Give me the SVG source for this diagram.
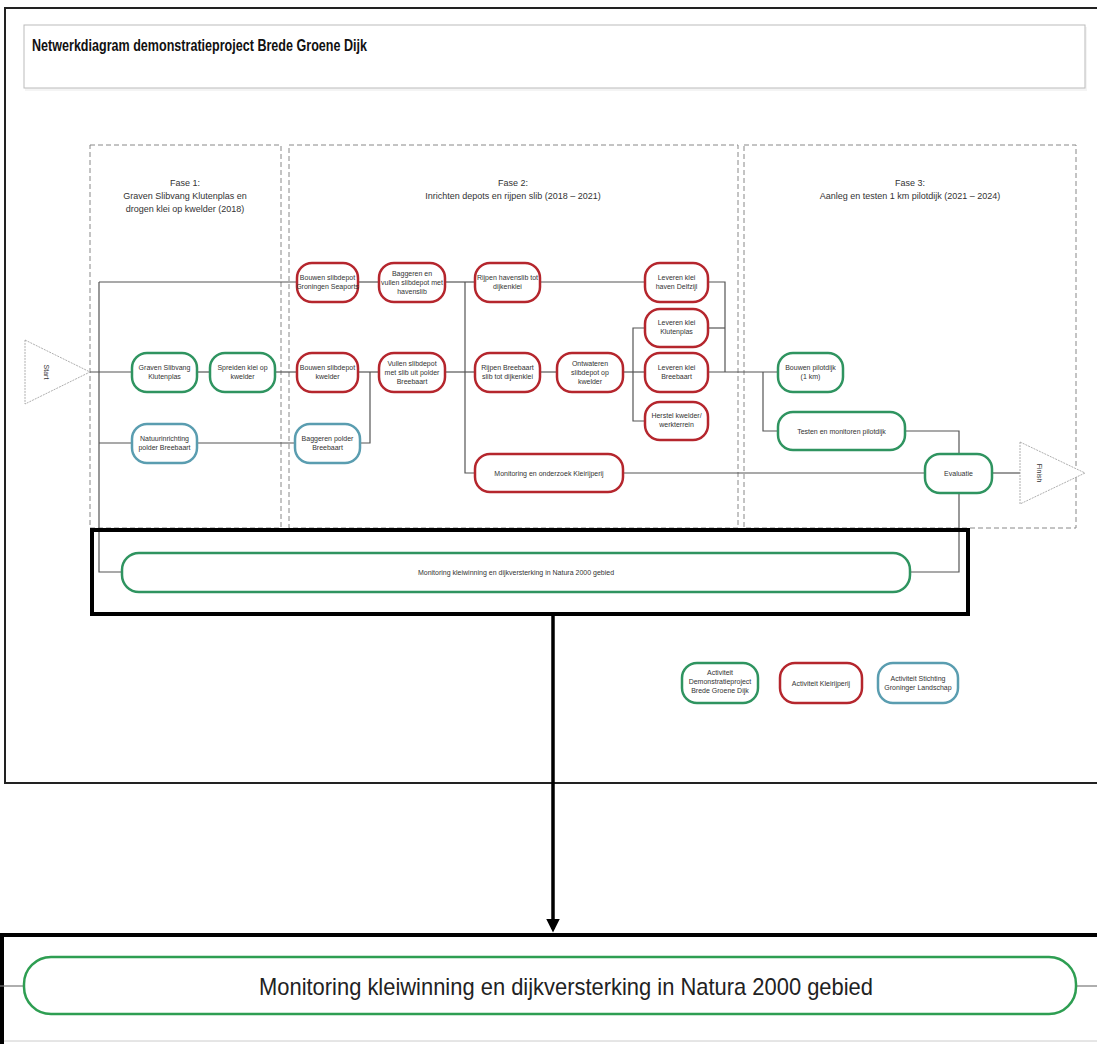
<svg xmlns="http://www.w3.org/2000/svg" width="1097" height="1044" viewBox="0 0 1097 1044">
<defs>
<style>
.t{font-family:"Liberation Sans",Arial,sans-serif;fill:#333;}
.n{font-size:7px;text-anchor:middle;}
.h{font-size:9px;text-anchor:middle;fill:#333;}
.g{fill:#fff;stroke:#2f9460;stroke-width:2.5;}
.r{fill:#fff;stroke:#b5262d;stroke-width:2.5;}
.b{fill:#fff;stroke:#5a9db0;stroke-width:2.5;}
.c{fill:none;stroke:#555;stroke-width:1.2;}
.ph{fill:none;stroke:#888;stroke-width:1;stroke-dasharray:5,3;}
.tri{fill:#fff;stroke:#999;stroke-width:0.8;stroke-dasharray:2,1;}
</style>
<marker id="ah" markerWidth="4" markerHeight="4" refX="3" refY="2" orient="auto" markerUnits="strokeWidth">
<path d="M0,0 L4,2 L0,4 Z" fill="#000"/>
</marker>
</defs>
<rect x="0" y="0" width="1097" height="1044" fill="#fff"/>
<!-- outer frame -->
<rect x="5" y="8" width="1100" height="775" fill="#fff" stroke="#222" stroke-width="2"/>
<!-- title box -->
<g id="title">
<rect x="25" y="27" width="1062" height="64" fill="#f4f4f4" stroke="none"/>
<rect x="24" y="25" width="1061" height="63" fill="#fff" stroke="#bbb" stroke-width="1"/>
<text class="t" x="32" y="51" font-size="17" font-weight="bold" textLength="335" lengthAdjust="spacingAndGlyphs" style="fill:#111">Netwerkdiagram demonstratieproject Brede Groene Dijk</text>
</g>
<!-- phases -->
<g id="phases">
<rect class="ph" x="90" y="145" width="191" height="383"/>
<rect class="ph" x="289" y="145" width="449" height="383"/>
<rect class="ph" x="744" y="145" width="332" height="383"/>
<text class="t h" x="185" y="186">Fase 1:</text>
<text class="t h" x="185" y="199">Graven Slibvang Klutenplas en</text>
<text class="t h" x="185" y="212">drogen klei op kwelder (2018)</text>
<text class="t h" x="513" y="186">Fase 2:</text>
<text class="t h" x="513" y="199">Inrichten depots en rijpen slib (2018 – 2021)</text>
<text class="t h" x="910" y="186">Fase 3:</text>
<text class="t h" x="910" y="199">Aanleg en testen 1 km pilotdijk (2021 – 2024)</text>
</g>
<!-- connectors -->
<g id="connectors">
<path class="c" d="M90,372 H132"/>
<path class="c" d="M197,372 H210"/>
<path class="c" d="M275,372 H297"/>
<path class="c" d="M99,282 V572 H122"/>
<path class="c" d="M99,282 H297"/>
<path class="c" d="M99,443 H132"/>
<path class="c" d="M197,443 H295"/>
<path class="c" d="M358,282 H379"/>
<path class="c" d="M358,372 H379"/>
<path class="c" d="M360,443 H370 V372"/>
<path class="c" d="M445,282 H475"/>
<path class="c" d="M445,372 H475"/>
<path class="c" d="M465,282 V473 H475"/>
<path class="c" d="M540,282 H645"/>
<path class="c" d="M540,372 H557"/>
<path class="c" d="M623,372 H645"/>
<path class="c" d="M645,328 H633 V421 H645"/>
<path class="c" d="M708,282 H725 V372"/>
<path class="c" d="M708,328 H725"/>
<path class="c" d="M708,372 H778"/>
<path class="c" d="M763,372 V431 H778"/>
<path class="c" d="M905,431 H959 V454"/>
<path class="c" d="M623,473 H925"/>
<path class="c" d="M992,473 H1020"/>
<path class="c" d="M910,572 H959 V493"/>
</g>
<!-- start / finish -->
<g id="start">
<path class="tri" d="M25,340 L90,372 L25,404 Z"/>
<text class="t" font-size="7" text-anchor="middle" transform="translate(44,372) rotate(90)">Start</text>
</g>
<g id="finish">
<path class="tri" d="M1020,442 L1085,473 L1020,504 Z"/>
<text class="t" font-size="7" text-anchor="middle" transform="translate(1037,473) rotate(90)">Finish</text>
</g>
<!-- Fase 1 nodes -->
<g id="n-graven"><rect class="g" x="132" y="353" width="65" height="39" rx="15"/><text class="t n" x="164.5" y="370">Graven Slibvang</text><text class="t n" x="164.5" y="379">Klutenplas</text></g>
<g id="n-spreiden"><rect class="g" x="210" y="353" width="65" height="39" rx="15"/><text class="t n" x="242.5" y="370">Spreiden klei op</text><text class="t n" x="242.5" y="379">kwelder</text></g>
<g id="n-natuur"><rect class="b" x="132" y="424" width="65" height="39" rx="15"/><text class="t n" x="164.5" y="441">Natuurinrichting</text><text class="t n" x="164.5" y="450">polder Breebaart</text></g>
<!-- Fase 2 nodes -->
<g id="n-bouwen-gs"><rect class="r" x="297" y="263" width="61" height="39" rx="15"/><text class="t n" x="327.5" y="280">Bouwen slibdepot</text><text class="t n" x="327.5" y="289">Groningen Seaports</text></g>
<g id="n-baggeren-vullen"><rect class="r" x="379" y="263" width="66" height="39" rx="15"/><text class="t n" x="412" y="276">Baggeren en</text><text class="t n" x="412" y="285">vullen slibdepot met</text><text class="t n" x="412" y="294">havenslib</text></g>
<g id="n-bouwen-kw"><rect class="r" x="297" y="353" width="61" height="39" rx="15"/><text class="t n" x="327.5" y="370">Bouwen slibdepot</text><text class="t n" x="327.5" y="379">kwelder</text></g>
<g id="n-vullen"><rect class="r" x="379" y="353" width="66" height="39" rx="15"/><text class="t n" x="412" y="366">Vullen slibdepot</text><text class="t n" x="412" y="375">met slib uit polder</text><text class="t n" x="412" y="384">Breebaart</text></g>
<g id="n-baggeren-polder"><rect class="b" x="295" y="424" width="65" height="39" rx="15"/><text class="t n" x="327.5" y="441">Baggeren polder</text><text class="t n" x="327.5" y="450">Breebaart</text></g>
<g id="n-rijpen-haven"><rect class="r" x="475" y="263" width="65" height="39" rx="15"/><text class="t n" x="507.5" y="280">Rijpen havenslib tot</text><text class="t n" x="507.5" y="289">dijkenklei</text></g>
<g id="n-rijpen-breebaart"><rect class="r" x="475" y="353" width="65" height="39" rx="15"/><text class="t n" x="507.5" y="370">Rijpen Breebaart</text><text class="t n" x="507.5" y="379">slib tot dijkenklei</text></g>
<g id="n-ontwateren"><rect class="r" x="557" y="353" width="66" height="39" rx="15"/><text class="t n" x="590" y="366">Ontwateren</text><text class="t n" x="590" y="375">slibdepot op</text><text class="t n" x="590" y="384">kwelder</text></g>
<g id="n-lev-delfzijl"><rect class="r" x="645" y="263" width="63" height="39" rx="15"/><text class="t n" x="676.5" y="280">Leveren klei</text><text class="t n" x="676.5" y="289">haven Delfzijl</text></g>
<g id="n-lev-kluten"><rect class="r" x="645" y="309" width="63" height="38" rx="15"/><text class="t n" x="676.5" y="325">Leveren klei</text><text class="t n" x="676.5" y="334">Klutenplas</text></g>
<g id="n-lev-breebaart"><rect class="r" x="645" y="353" width="63" height="39" rx="15"/><text class="t n" x="676.5" y="370">Leveren klei</text><text class="t n" x="676.5" y="379">Breebaart</text></g>
<g id="n-herstel"><rect class="r" x="645" y="402" width="63" height="38" rx="15"/><text class="t n" x="676.5" y="418">Herstel kwelder/</text><text class="t n" x="676.5" y="427">werkterrein</text></g>
<g id="n-monitoring-klei"><rect class="r" x="475" y="454" width="148" height="38" rx="15"/><text class="t n" x="549" y="475.5">Monitoring en onderzoek Kleirijperij</text></g>
<!-- Fase 3 nodes -->
<g id="n-pilotdijk"><rect class="g" x="778" y="353" width="65" height="39" rx="15"/><text class="t n" x="810.5" y="370">Bouwen pilotdijk</text><text class="t n" x="810.5" y="379">(1 km)</text></g>
<g id="n-testen"><rect class="g" x="778" y="412" width="127" height="38" rx="15"/><text class="t n" x="841.5" y="433.5">Testen en monitoren pilotdijk</text></g>
<g id="n-evaluatie"><rect class="g" x="925" y="454" width="67" height="39" rx="15"/><text class="t n" x="958.5" y="476">Evaluatie</text></g>
<!-- monitoring small -->
<g id="n-monitoring-natura"><rect class="g" x="122" y="553" width="788" height="39" rx="17"/><text class="t n" x="516" y="574.5">Monitoring kleiwinning en dijkversterking in Natura 2000 gebied</text></g>
<!-- highlight box -->
<rect x="92" y="530" width="876" height="84" fill="none" stroke="#000" stroke-width="4"/>
<!-- legend -->
<g id="legend-green"><rect class="g" x="682" y="663" width="76" height="40" rx="15"/><text class="t n" x="720" y="675">Activiteit</text><text class="t n" x="720" y="684">Demonstratieproject</text><text class="t n" x="720" y="693">Brede Groene Dijk</text></g>
<g id="legend-red"><rect class="r" x="780" y="663" width="82" height="40" rx="15"/><text class="t n" x="821" y="685.5">Activiteit Kleirijperij</text></g>
<g id="legend-blue"><rect class="b" x="878" y="663" width="80" height="40" rx="15"/><text class="t n" x="918" y="681">Activiteit Stichting</text><text class="t n" x="918" y="690">Groninger Landschap</text></g>
<!-- arrow -->
<g id="zoom-arrow">
<line x1="553" y1="614" x2="553" y2="929" stroke="#000" stroke-width="3.5" marker-end="url(#ah)"/>
</g>
<!-- bottom enlarged -->
<g id="n-monitoring-large">
<rect x="2" y="935" width="1100" height="115" fill="#fff" stroke="#000" stroke-width="4"/>
<line x1="0" y1="986" x2="24" y2="986" stroke="#777" stroke-width="1.2"/>
<line x1="1076" y1="986" x2="1097" y2="986" stroke="#777" stroke-width="1.2"/>
<line x1="4" y1="1041" x2="1097" y2="1041" stroke="#ccc" stroke-width="1"/>
<rect x="24" y="957" width="1052" height="57" rx="27" fill="#fff" stroke="#2e9e52" stroke-width="2.5"/>
<text class="t" x="566" y="995" font-size="24" text-anchor="middle" textLength="614" lengthAdjust="spacingAndGlyphs" style="fill:#222">Monitoring kleiwinning en dijkversterking in Natura 2000 gebied</text>
</g>
</svg>
